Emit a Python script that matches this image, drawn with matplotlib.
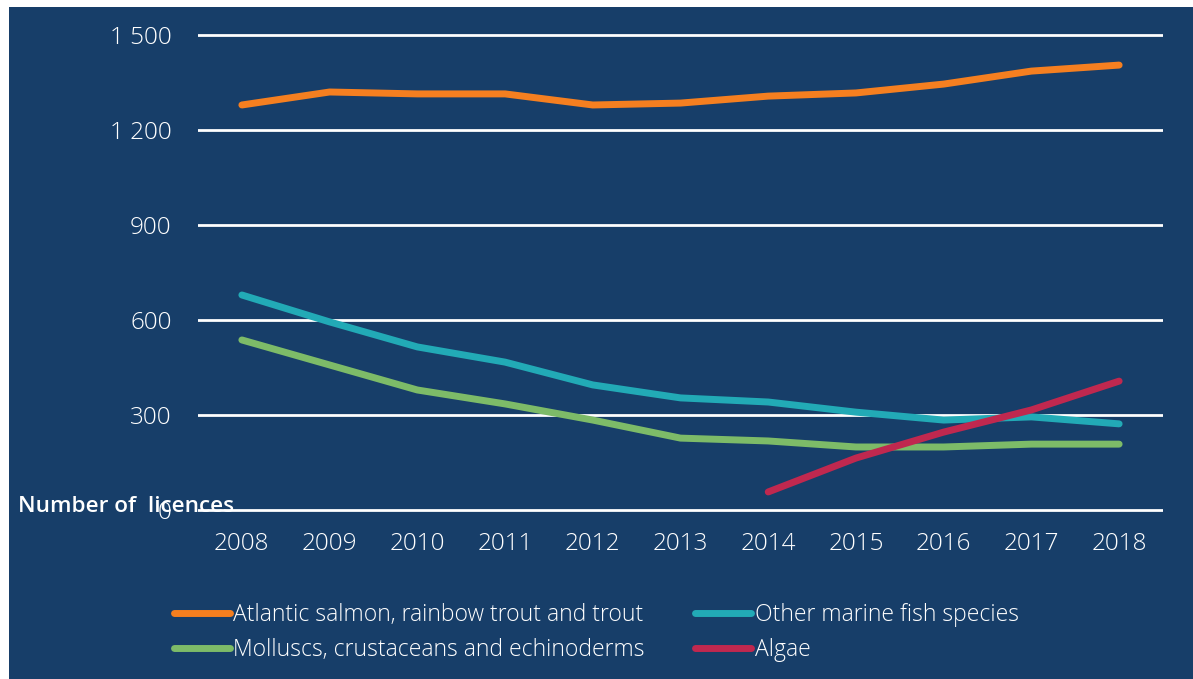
import matplotlib.pyplot as plt
from matplotlib.patches import Rectangle

years = [2008, 2009, 2010, 2011, 2012, 2013, 2014, 2015, 2016, 2017, 2018]
salmon = [1279, 1320, 1314, 1314, 1279, 1285, 1307, 1317, 1345, 1386, 1405]
marine = [679, 594, 515, 467, 395, 354, 341, 309, 284, 294, 272]
molluscs = [537, 458, 379, 335, 284, 227, 218, 199, 199, 208, 208]
algae_years = [2014, 2015, 2016, 2017, 2018]
algae = [57, 164, 246, 316, 407]
yticks = [0, 300, 600, 900, 1200, 1500]
ylabels = ["0", "300", "600", "900", "1 200", "1 500"]

bg = "#173e69"
plt.rcParams['font.family'] = ['Open Sans', 'DejaVu Sans']

fig = plt.figure(figsize=(11.93, 6.79), dpi=100)
fig.patches.append(Rectangle((9 / 1193, 0), 1, 672 / 679, transform=fig.transFigure,
                             facecolor=bg, edgecolor="none", zorder=-5))

ax = fig.add_axes([198 / 1193, (679 - 519.5) / 679, 965 / 1193, 494 / 679])
ax.set_facecolor("none")
l1, = ax.plot(years, salmon, color="#f57f20", lw=5, solid_capstyle="round",
              label="Atlantic salmon, rainbow trout and trout", zorder=3)
l2, = ax.plot(years, marine, color="#22aab6", lw=5, solid_capstyle="round",
              label="Other marine fish species", zorder=3)
l3, = ax.plot(years, molluscs, color="#7dbb68", lw=5, solid_capstyle="round",
              label="Molluscs, crustaceans and echinoderms", zorder=3)
l4, = ax.plot(algae_years, algae, color="#c0284f", lw=5, solid_capstyle="round",
              label="Algae", zorder=3)

ax.set_xlim(2007.5, 2018.5)
ax.set_ylim(-30, 1530)
ax.set_yticks(yticks)
ax.set_yticklabels(ylabels)
ax.set_xticks(years)
for y in yticks:
    ax.axhline(y, color="white", lw=2, zorder=1)
for s in ax.spines.values():
    s.set_visible(False)
ax.tick_params(length=0, colors="white", labelsize=17.5)
ax.tick_params(axis="y", pad=19)
ax.tick_params(axis="x", pad=9)
for t in ax.get_xticklabels() + ax.get_yticklabels():
    t.set_fontweight("light")

fig.text(18 / 1193, 1 - 507 / 679, "Number of  licences", color="white", fontsize=16.2,
         fontweight="semibold", va="center", ha="left")

leg = ax.legend([l1, l3, l2, l4], [l.get_label() for l in (l1, l3, l2, l4)],
                loc="upper left", bbox_to_anchor=(153 / 1193, 1 - 582 / 679),
                bbox_transform=fig.transFigure, ncol=2, frameon=False, fontsize=16.5,
                labelcolor="white", handlelength=2.45, handletextpad=0.15,
                columnspacing=2.2, labelspacing=0.5)
for t in leg.get_texts():
    t.set_fontweight("light")

fig.savefig("out.png", dpi=100)
